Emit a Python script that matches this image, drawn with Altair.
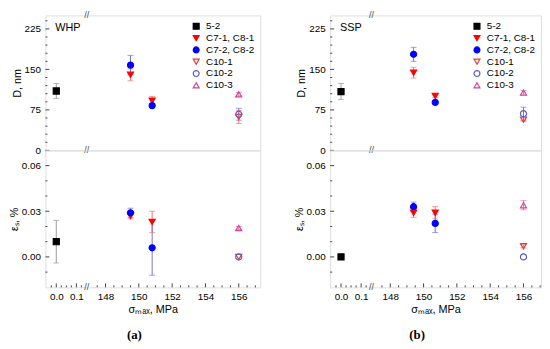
import altair as alt
import pandas as pd

# ---- legend / series definitions ----
SERIES = ["5-2", "C7-1, C8-1", "C7-2, C8-2", "C10-1", "C10-2", "C10-3"]
SHAPES = ["square", "triangle-down", "circle", "triangle-down", "circle", "triangle-up"]
STROKES = ["#000000", "#ff0000", "#0000ff", "#e53b3b", "#5a5ac8", "#d2459b"]
FILLS = ["#000000", "#ff0000", "#0000ff", "transparent", "transparent", "transparent"]
ERRC = {"5-2": "#9a9a9a", "C7-1, C8-1": "#e87878", "C7-2, C8-2": "#7474d2",
        "C10-1": "#e87878", "C10-2": "#7474d2", "C10-3": "#d77ab5"}

# ---- panel (a) WHP ----
a_series = ["5-2", "C7-1, C8-1", "C7-2, C8-2", "C7-1, C8-1", "C7-2, C8-2", "C10-1", "C10-2", "C10-3"]
a_sigma = [0.0, 149.5, 149.5, 150.8, 150.8, 156.0, 156.0, 156.0]
a_D = [110, 140, 158, 92, 83, 62, 67, 104]
a_Derr = [14, 11, 18, 8, 4, 12, 11, 3]
a_eps = [0.010, 0.027, 0.029, 0.023, 0.006, 0.000, 0.000, 0.019]
a_epserr = [0.014, 0.002, 0.003, 0.007, 0.018, 0.0, 0.0, 0.001]

# ---- panel (b) SSP ----
b_series = ["5-2", "C7-1, C8-1", "C7-2, C8-2", "C7-1, C8-1", "C7-2, C8-2", "C10-1", "C10-2", "C10-3"]
b_sigma = [0.0, 149.4, 149.4, 150.7, 150.7, 156.0, 156.0, 156.0]
b_D = [109, 144, 178, 101, 89, 57, 68, 107]
b_Derr = [15, 10, 13, 3, 3, 3, 12, 4]
b_eps = [0.000, 0.029, 0.033, 0.029, 0.022, 0.007, 0.000, 0.034]
b_epserr = [0.0, 0.003, 0.003, 0.004, 0.006, 0.001, 0.0, 0.003]

# ---- axis ticks ----
x_major = [0.0, 0.1, 148, 150, 152, 154, 156]
x_minor = [-0.025, 0.025, 0.05, 0.075, 0.125, 147.5, 148.5, 149, 149.5, 150.5, 151, 151.5,
           152.5, 153, 153.5, 154.5, 155, 155.5, 156.5, 157]
D_major = [0, 75, 150, 225]
D_minor = [15, 30, 45, 60, 90, 105, 120, 135, 165, 180, 195, 210, 240]
e_major = [0.0, 0.03, 0.06]
e_minor = [-0.01, 0.01, 0.02, 0.04, 0.05]

# broken x-axis: display coordinate (pixels from plot left)
BREAK = 42
XEXPR = "datum.s < 1 ? 11 + datum.s * 204 : 61 + (datum.s - 148) * 16.9"
LABEXPR = ("datum.value < 42 ? format((datum.value - 11) / 204, '.1f') "
           ": format(148 + (datum.value - 61) / 16.9, '.0f')")


def xmap(s):
    return 11 + s * 204 if s < 1 else 61 + (s - 148) * 16.9


FONT = "Liberation Sans"
FRAME = "#444444"
HT, HB = 137, 139
XTITLE = "σₘₐₓ, MPa"


def sub(series, sigma, val, err, ymaj, ymin, ydom, ytitle, yfmt, W, H, top, label):
    df = pd.DataFrame({"series": series, "s": sigma, "v": val, "e": err,
                       "ec": [ERRC[k] for k in series]})
    base = alt.Chart(df).transform_calculate(
        xd=XEXPR, lo="datum.v - datum.e", hi="datum.v + datum.e")
    xsc = alt.Scale(domain=[0, W], nice=False, zero=False)
    ysc = alt.Scale(domain=ydom, nice=False, zero=False)
    if top:
        X = alt.X("xd:Q", scale=xsc, axis=None)
    else:
        xvals = [xmap(v) for v in x_major]
        xaxis = alt.Axis(values=xvals, labelExpr=LABEXPR, ticks=False, tickSize=0,
                         domain=False, grid=False, labelPadding=4, titlePadding=3,
                         labelFontSize=10, titleFontSize=11, labelFont=FONT, titleFont=FONT,
                         labelColor="black", titleColor="black", titleFontWeight="normal")
        X = alt.X("xd:Q", scale=xsc, axis=xaxis, title=XTITLE)
    yaxis = alt.Axis(values=ymaj, format=yfmt, ticks=False, tickSize=0, domain=False,
                     grid=False, labelPadding=5, titlePadding=2, labelFontSize=10,
                     titleFontSize=11, labelFont=FONT, titleFont=FONT,
                     labelColor="black", titleColor="black", titleFontWeight="normal")

    def Y(f):
        return alt.Y(f, scale=ysc, title=ytitle, axis=yaxis)

    errd = base.transform_filter("datum.e > 0")
    rules = errd.mark_rule(strokeWidth=1).encode(
        x=X, y=Y("lo:Q"), y2="hi:Q", color=alt.Color("ec:N", scale=None))
    cap_lo = errd.mark_tick(orient="horizontal", size=6, thickness=1).encode(
        x=X, y=Y("lo:Q"), color=alt.Color("ec:N", scale=None))
    cap_hi = errd.mark_tick(orient="horizontal", size=6, thickness=1).encode(
        x=X, y=Y("hi:Q"), color=alt.Color("ec:N", scale=None))

    if top:
        leg = alt.Legend(orient="top-right", offset=6, title=None, labelFontSize=10,
                         labelFont=FONT, symbolSize=36, rowPadding=1, padding=0,
                         labelOffset=5, symbolStrokeWidth=1.2, labelColor="black")
    else:
        leg = None
    pts = base.mark_point(opacity=1, size=38, strokeWidth=1.2).encode(
        x=X, y=Y("v:Q"),
        stroke=alt.Stroke("series:N", scale=alt.Scale(domain=SERIES, range=STROKES), legend=leg),
        fill=alt.Fill("series:N", scale=alt.Scale(domain=SERIES, range=FILLS), legend=leg),
        shape=alt.Shape("series:N", scale=alt.Scale(domain=SERIES, range=SHAPES), legend=leg),
    )

    # inward y ticks
    ymj = alt.Chart(pd.DataFrame({"t": ymaj})).mark_rule(color=FRAME).encode(
        y=Y("t:Q"), x=alt.value(0), x2=alt.value(4))
    ymn = alt.Chart(pd.DataFrame({"t": ymin})).mark_rule(color=FRAME).encode(
        y=Y("t:Q"), x=alt.value(0), x2=alt.value(2))

    brk = alt.Chart(pd.DataFrame({"t": ["//"]})).mark_text(
        fontSize=9, font=FONT, color=FRAME, baseline="middle").encode(
        text="t:N", x=alt.value(BREAK), y=alt.value(H))
    layers = [ymj, ymn, rules, cap_lo, cap_hi, pts, brk]

    if top:
        brk_top = alt.Chart(pd.DataFrame({"t": ["//"]})).mark_text(
            fontSize=9, font=FONT, color=FRAME, baseline="middle").encode(
            text="t:N", x=alt.value(BREAK), y=alt.value(0))
        lab = alt.Chart(pd.DataFrame({"t": [label]})).mark_text(
            align="left", baseline="middle", fontSize=11, font=FONT, color="black").encode(
            text="t:N", x=alt.value(10), y=alt.value(13))
        layers += [brk_top, lab]
    else:
        xmj = alt.Chart(pd.DataFrame({"s": x_major})).transform_calculate(xd=XEXPR).mark_rule(
            color=FRAME).encode(x=X, y=alt.value(H), y2=alt.value(H - 4))
        xmn = alt.Chart(pd.DataFrame({"s": x_minor})).transform_calculate(xd=XEXPR).mark_rule(
            color=FRAME).encode(x=X, y=alt.value(H), y2=alt.value(H - 2))
        layers = [xmj, xmn] + layers

    return alt.layer(*layers).properties(width=W, height=H)


def panel(series, sigma, D, Derr, eps, epserr, label, tag, W):
    top = sub(series, sigma, D, Derr, D_major, D_minor, [0, 250], "D, nm", "d", W, HT, True, label)
    bot = sub(series, sigma, eps, epserr, e_major, e_minor, [-0.02, 0.07], "εₛ, %", ".2f",
              W, HB, False, label)
    return alt.vconcat(top, bot, spacing=0, bounds="flush").resolve_scale(
        stroke="independent", fill="independent", shape="independent").properties(
        title=alt.TitleParams(tag, orient="bottom", anchor="middle", fontSize=13,
                              font="Liberation Serif", fontWeight="bold", color="black",
                              offset=14))


pa = panel(a_series, a_sigma, a_D, a_Derr, a_eps, a_epserr, "WHP", "(a)", 218)
pb = panel(b_series, b_sigma, b_D, b_Derr, b_eps, b_epserr, "SSP", "(b)", 214)

chart = alt.hconcat(pa, pb, spacing=32).resolve_scale(
    stroke="independent", fill="independent", shape="independent").properties(
    padding={"left": 0, "top": 0, "right": 0, "bottom": 0}
).configure_view(stroke=FRAME, strokeWidth=1).configure(background="white")

chart.save("out.html", embed_options={"renderer": "svg", "actions": False})
